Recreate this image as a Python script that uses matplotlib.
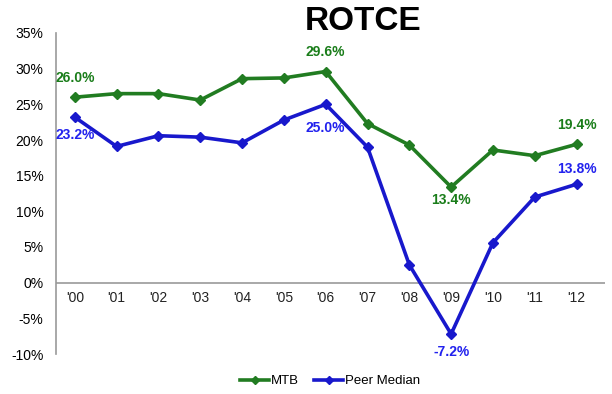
import matplotlib
matplotlib.use("Agg")
import matplotlib.pyplot as plt
from matplotlib.ticker import FuncFormatter

plt.rcParams['font.family'] = ['Liberation Sans', 'DejaVu Sans']

years = ["'00", "'01", "'02", "'03", "'04", "'05", "'06", "'07", "'08", "'09", "'10", "'11", "'12"]
mtb = [26.0, 26.5, 26.5, 25.6, 28.6, 28.7, 29.6, 22.3, 19.3, 13.4, 18.6, 17.8, 19.4]
peer = [23.2, 19.1, 20.6, 20.4, 19.6, 22.8, 25.0, 19.0, 2.5, -7.2, 5.6, 12.0, 13.8]

# labelled points: index -> (dx pts, dy pts)
mtb_labels = {0: (0, 14), 6: (0, 14), 9: (0, -9.5), 12: (0, 14)}
peer_labels = {0: (0, -13), 6: (0, -17), 9: (0, -13), 12: (0, 11)}

green = '#217c21'
green_txt = '#1a7d1a'
blue = '#1818cc'
blue_txt = '#2222ee'

fig = plt.figure(figsize=(6.12, 3.94), dpi=100)
ax = fig.add_axes([56/612, 1 - 354/394, (605-56)/612, (354-33)/394])

x = list(range(len(years)))
ax.plot(x, mtb, color=green, lw=2.6, marker='D', ms=5.5, label='MTB', zorder=3)
ax.plot(x, peer, color=blue, lw=2.6, marker='D', ms=5.5, label='Peer Median', zorder=3)

for i, (dx, dy) in mtb_labels.items():
    ax.annotate(f"{mtb[i]:.1f}%", (x[i], mtb[i]), xytext=(dx, dy), textcoords='offset points',
                ha='center', va='center', color=green_txt, fontsize=10, fontweight='bold')
for i, (dx, dy) in peer_labels.items():
    ax.annotate(f"{peer[i]:.1f}%", (x[i], peer[i]), xytext=(dx, dy), textcoords='offset points',
                ha='center', va='center', color=blue_txt, fontsize=10, fontweight='bold')

ax.set_ylim(-10, 35)
ax.set_xlim(-0.45, 12.68)
ax.set_yticks(range(-10, 36, 5))
ax.yaxis.set_major_formatter(FuncFormatter(lambda v, p: f"{int(v)}%"))
ax.tick_params(axis='y', length=0, labelsize=10, pad=9)
ax.set_xticks(x)
ax.set_xticklabels([])
ax.tick_params(axis='x', length=0)

# x category labels just below the zero line
for i, yr in enumerate(years):
    ax.text(i, -2.1, yr, ha='center', va='center', fontsize=10, color='#222222')

for s in ['top', 'right', 'bottom']:
    ax.spines[s].set_visible(False)
ax.spines['left'].set_color('#999999')
ax.spines['left'].set_linewidth(1.2)
ax.axhline(0, color='#999999', lw=1.2, zorder=1)

fig.text(363/612, 1 - 22/394, 'ROTCE', ha='center', va='center', fontsize=24, fontweight='bold')

leg = fig.legend(loc='center', bbox_to_anchor=(330/612, 1 - 381/394), ncol=2, frameon=False,
                 fontsize=9.5, handlelength=2.2, handletextpad=0.1, columnspacing=1.2,
                 markerscale=0.8)

fig.savefig('out.png', dpi=100)
